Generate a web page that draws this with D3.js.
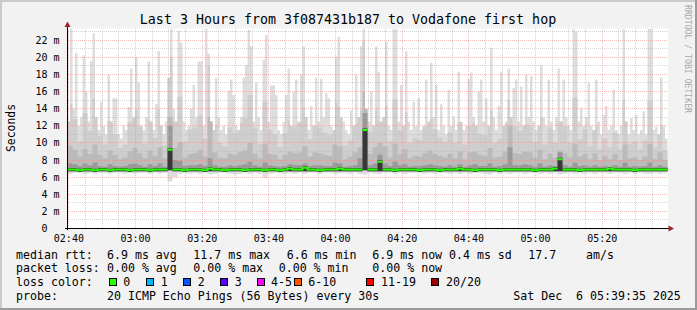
<!DOCTYPE html>
<html><head><meta charset="utf-8">
<script src="https://cdn.jsdelivr.net/npm/d3@7"></script>
<style>
html,body{margin:0;padding:0;background:#f2f2f2;}
svg{display:block;}
text{font-family:"DejaVu Sans Mono",monospace;white-space:pre;}
</style>
</head><body>
<svg id="chart" width="697" height="310"></svg>
<script>
// ---------- data ----------
const titleText = "Last 3 Hours from 3f087431b187 to Vodafone first hop";
const yAxisTitle = "Seconds";
const watermark = "RRDTOOL / TOBI OETIKER";
const timeLabels = ["02:40","03:00","03:20","03:40","04:00","04:20","04:40","05:00","05:20"];
const yTickValues = [0,2,4,6,8,10,12,14,16,18,20,22];
const yTickLabels = ["0  ","2 m","4 m","6 m","8 m","10 m","12 m","14 m","16 m","18 m","20 m","22 m"];
const startTime = "2025-12-06 02:39:35";
const endTime = "2025-12-06 05:39:35";
const stepSeconds = 90;      // step of the inner smoke layers / median
const maxStepSeconds = 45;   // step of the smoke maximum

// smoke maximum (slowest of 20 pings), ms, 240 steps of 45 s
const smokeMax = [
12.5,23.3,14,20.5,12,13,20.2,16,12.5,19.6,
22.8,13,11.5,14.8,12,11,18,12.5,15.2,15.2,
11,10.5,12,11.5,14.2,18.7,13,20.0,17,12,
11.5,13,19.5,12.5,11.5,14.5,20.7,12,11,12.5,
17.6,23.3,14,12.5,23.1,21.7,12.5,11.5,12,14,
16.8,13,19.5,19.5,12,23.3,20.4,12.5,11.5,17.6,
13,11.5,12,11,16.1,17.4,15.6,12,11.5,13,
17.6,19.1,23.2,21.3,12.5,17,13,11.5,19.7,22.6,
12.5,16.7,16.7,15.6,11.5,11,12.5,15.6,18.7,12,
16,17.4,12.5,18,21.3,13,11.5,14.3,12,17.6,
12.5,17.5,13,15.8,15.2,12,11.5,20.1,22.4,13,
12.5,11.5,11,13.8,12,18,13,21.3,23.3,14,
12.5,16,12,21.3,18.3,12.5,13,21.8,12,11.5,
23.3,23.3,12.5,16.8,12,20.7,12.5,11.5,14.8,12,
15.2,11.5,12,17.4,12.5,19.4,13,16.8,11.5,14.5,
12,11,16.2,12,13.1,11.5,18.3,12.5,11.5,12,
17.5,18.2,13,12,16,17.4,12.5,15.2,12,21.1,
13,11.5,14.3,18.3,12,12.5,18.7,13,16.4,17.4,
12.5,16.6,12,18,13,17.8,12.5,11.5,12,19.1,
13,12,17.4,12.5,11.5,13,18.7,12.5,17.4,13,
12,11.5,23.3,23,12.5,14.1,12,13,17,12,
11.5,17.4,12.5,11,13.3,14.3,11.5,12,16.2,11.5,
11,12,23.3,12.5,11,12.9,11.5,13.3,11,11.5,
13.7,11,23.3,23.3,11.5,11.9,11,17.6,12,10.5];
// upper smoke layers, 120 steps of 90 s
const smokeP80 = [
14.5,12.8,10.2,13.5,11.4,15.2,10.8,9.8,12.6,11.0,
9.4,9.8,12.4,13.8,11.9,9.9,12.7,10.6,13.9,9.7,
20.0,12.5,15.4,10.1,11.6,11.8,13.2,10.5,19.0,12.0,
10.0,9.6,11.8,11.2,12.3,12.9,15.6,11.7,9.9,14.8,
11.5,11.0,9.5,11.1,12.6,11.9,12.4,14.1,10.4,12.0,
11.8,11.2,10.9,14.7,14.3,9.7,10.3,12.2,13.9,22.0,
11.3,14.0,12.5,14.4,10.2,15.1,11.5,13.6,10.0,10.6,
10.3,11.9,12.8,11.6,10.6,10.1,11.2,10.0,12.4,9.8,
12.0,12.3,11.1,10.9,13.8,10.0,10.5,12.3,15.0,11.9,
11.4,12.2,12.0,10.1,12.9,9.8,11.8,10.0,12.5,11.9,
10.0,15.3,10.4,11.6,9.6,11.9,9.3,10.5,9.5,11.2,
9.3,15.0,9.9,10.2,9.2,10.3,14.9,9.5,12.1,9.2];
const smokeP65 = [
9.6,9.2,8.4,9.3,8.7,9.8,8.6,8.2,9.1,8.6,
8.1,8.3,9.0,9.4,8.8,8.2,9.1,8.5,9.5,8.2,
13.0,9.4,10.1,8.3,8.7,8.8,9.2,8.4,13.0,8.9,
8.3,8.2,8.8,8.6,8.9,9.1,10.0,8.7,8.2,9.9,
8.7,8.6,8.1,8.6,9.0,8.8,8.9,9.6,8.4,8.9,
8.8,8.6,8.5,9.8,9.6,8.1,8.4,8.9,9.5,16.0,
8.7,9.5,10.0,9.6,8.3,9.9,8.7,9.3,8.2,8.5,
8.4,8.8,9.1,8.7,8.5,8.3,8.7,8.2,9.0,8.1,
8.9,9.0,8.6,8.5,9.4,8.3,8.4,9.0,12.0,8.8,
8.7,9.0,8.9,8.3,9.2,8.1,8.8,8.3,9.1,8.8,
8.3,9.9,8.4,8.7,8.1,8.8,8.0,8.5,8.1,8.7,
8.0,9.8,8.2,8.3,8.0,8.4,9.9,8.1,8.9,8.0];
const smokeP55 = [
7.6,7.5,7.3,7.6,7.4,7.7,7.3,7.2,7.5,7.3,
7.2,7.3,7.5,7.6,7.4,7.2,7.5,7.3,7.6,7.2,
12.0,8.0,7.9,7.3,7.4,7.4,7.5,7.3,8.2,7.4,
7.2,7.2,7.4,7.3,7.4,7.5,7.8,7.4,7.2,7.7,
7.4,7.3,7.2,7.3,7.5,7.4,7.4,7.6,7.3,7.4,
7.4,7.3,7.3,7.7,7.6,7.2,7.3,7.4,8.2,13.5,
7.4,7.6,8.6,7.6,7.3,7.8,7.4,7.5,7.2,7.3,
7.3,7.4,7.5,7.4,7.3,7.2,7.4,7.2,7.5,7.2,
7.4,7.5,7.3,7.3,7.6,7.2,7.3,7.5,9.5,7.4,
7.4,7.5,7.4,7.2,7.6,7.2,7.4,7.3,8.9,7.4,
7.2,7.7,7.3,7.4,7.2,7.4,7.2,7.3,7.2,7.4,
7.2,7.7,7.2,7.3,7.2,7.3,7.7,7.2,7.4,7.2];
// bottom of the inner (darker) layers
const smokeInnerLow = [
6.7,6.7,6.6,6.7,6.7,6.6,6.7,6.7,6.6,6.7,
6.7,6.7,6.6,6.7,6.7,6.7,6.6,6.7,6.7,6.7,
6.8,6.7,6.7,6.6,6.7,6.7,6.7,6.6,6.7,6.7,
6.7,6.6,6.7,6.7,6.7,6.6,6.7,6.7,6.7,6.6,
6.7,6.7,6.6,6.7,6.7,6.7,6.7,6.7,6.7,6.7,
6.6,6.7,6.7,6.7,6.7,6.7,6.7,6.7,6.7,6.8,
6.7,6.7,6.7,6.7,6.7,6.6,6.7,6.7,6.7,6.7,
6.6,6.7,6.7,6.7,6.6,6.7,6.7,6.7,6.7,6.7,
6.7,6.6,6.7,6.7,6.7,6.7,6.6,6.7,6.7,6.7,
6.7,6.7,6.7,6.6,6.7,6.7,6.7,6.7,6.7,6.7,
6.7,6.7,6.6,6.7,6.7,6.7,6.7,6.7,6.7,6.7,
6.7,6.7,6.7,6.6,6.7,6.7,6.7,6.7,6.7,6.7];
// bottom of the lightest layer (fastest of 20 pings)
const smokeMin = [
6.4,6.5,6.5,6.4,6.5,6.4,6.5,6.5,6.4,6.5,
6.5,6.4,6.5,6.4,6.5,6.5,6.4,6.5,6.4,6.5,
5.5,6.0,6.4,6.5,6.4,6.5,6.4,6.5,6.3,6.4,
6.5,6.5,6.4,6.3,6.4,6.5,6.4,6.5,6.4,5.9,
6.4,6.5,6.5,6.4,6.5,6.4,6.5,6.4,6.5,6.5,
6.4,6.5,6.5,6.4,6.5,6.5,6.4,6.5,6.4,6.3,
6.5,6.4,6.4,6.5,6.5,6.4,6.5,6.4,6.5,6.5,
6.5,6.4,6.5,6.4,6.5,6.5,6.4,6.5,6.4,6.5,
6.4,6.5,6.5,6.4,6.3,6.5,6.4,6.5,6.4,6.5,
6.5,6.4,6.5,6.5,6.4,6.5,6.4,6.5,6.3,6.4,
6.5,6.4,6.5,6.4,6.5,6.4,6.5,6.5,6.4,6.5,
6.5,6.4,6.5,6.4,6.5,6.4,6.4,6.5,6.4,6.5];
const medianRtt = [
6.9,6.9,6.8,6.9,6.9,6.8,6.9,6.9,6.8,6.9,
6.9,6.9,6.8,6.9,6.9,6.9,6.8,6.9,6.9,6.9,
9.2,6.9,6.9,6.8,6.9,6.9,6.9,6.8,7.0,6.9,
6.9,6.8,6.9,6.9,6.9,6.8,6.9,6.9,6.9,6.8,
6.9,6.9,6.8,6.9,7.0,6.9,6.9,7.1,6.9,6.9,
6.8,6.9,6.9,6.9,7.0,6.9,6.9,6.9,6.9,11.5,
6.9,6.9,7.8,6.9,6.9,6.8,6.9,6.9,6.9,6.9,
6.8,6.9,6.9,6.9,6.8,6.9,6.9,6.9,7.0,6.9,
6.9,6.8,6.9,6.9,6.9,6.9,6.8,6.9,6.9,6.9,
6.9,6.9,6.9,6.8,6.9,6.9,6.9,7.0,8.1,6.9,
6.9,6.9,6.8,6.9,6.9,6.9,6.9,6.9,7.0,6.9,
6.9,6.9,6.9,6.8,6.9,6.9,6.9,6.9,6.9,6.9];

// legend content
const rttHeader = "median rtt:";
const rttStats = ["6.9 ms avg","11.7 ms max","6.6 ms min","6.9 ms now","0.4 ms sd","17.7","am/s"];
const lossHeader = "packet loss:";
const lossStats = ["0.00 % avg","0.00 % max","0.00 % min","0.00 % now"];
const colorHeader = "loss color:";
const lossLabels = ["0","1","2","3","4-5","6-10","11-19","20/20"];
const lossColors = ["#26ff00","#00b8ff","#0059ff","#5e00ff","#ff00ff","#ff5500","#ff0000","#a00000"];
const probeHeader = "probe:";
const probeText = "20 ICMP Echo Pings (56 Bytes) every 30s";
const dateText = "Sat Dec  6 05:39:35 2025";

// ---------- drawing ----------
const W = 697, H = 310;
const svg = d3.select("#chart");
const parseT = d3.timeParse("%Y-%m-%d %H:%M:%S");
const t0 = parseT(startTime), t1 = parseT(endTime);

const x = d3.scaleTime().domain([t0, t1]).range([67.5, 667.5]);
const y = d3.scaleLinear().domain([0, 23.36]).range([228.5, 28.5]);

// background + 3D border
svg.append("rect").attr("width", W).attr("height", H).attr("fill", "#f2f2f2");
svg.append("path").attr("d", `M0,1 H${W} M1,0 V${H}`).attr("stroke", "#cbcbcb").attr("stroke-width", 2);
svg.append("path").attr("d", `M0,${H-1} H${W} M${W-1},0 V${H}`).attr("stroke", "#9b9b9b").attr("stroke-width", 2);

// plot canvas
svg.append("rect").attr("x", 67).attr("y", 28.5).attr("width", 601).attr("height", 200).attr("fill", "#ffffff");

// coarse rows (median, inner layers)
const rows = medianRtt.map((m, i) => ({
  t: d3.timeSecond.offset(t0, i * stepSeconds),
  med: m, min: smokeMin[i], lo: smokeInnerLow[i]
}));
const stepRows = rows.concat([Object.assign({}, rows[rows.length - 1], {t: t1})]);
// fine rows (max resolution); inner layers never exceed the outer envelope
const ratio = stepSeconds / maxStepSeconds;
const fine = smokeMax.map((mx, j) => {
  const i = Math.floor(j / ratio);
  return {
    t: d3.timeSecond.offset(t0, j * maxStepSeconds),
    max: mx, min: smokeMin[i], lo: smokeInnerLow[i],
    p80: Math.min(smokeP80[i], mx), p65: Math.min(smokeP65[i], mx), p55: Math.min(smokeP55[i], mx)
  };
});
const fineStep = fine.concat([Object.assign({}, fine[fine.length - 1], {t: t1})]);

const layers = [
  {lo: "min", hi: "max", color: "#dddddd"},
  {lo: "lo", hi: "p80", color: "#cecece"},
  {lo: "lo", hi: "p65", color: "#bababa"},
  {lo: "lo", hi: "p55", color: "#999999"}
];
const gSmoke = svg.append("g");
layers.forEach(L => {
  gSmoke.append("path")
    .attr("fill", L.color)
    .attr("d", d3.area().curve(d3.curveStepAfter)
      .x(d => x(d.t)).y0(d => y(d[L.lo])).y1(d => y(d[L.hi]))(fineStep));
});

// grid (dotted, over smoke)
const gGrid = svg.append("g").attr("fill", "none").attr("shape-rendering", "crispEdges");
const minorTimes = d3.timeMinute.every(5).range(d3.timeMinute.ceil(t0), t1);
const majorTimes = timeLabels.map(s => parseT("2025-12-06 " + s + ":00"));
const majorSet = new Set(majorTimes.map(d => +d));
const minorStyle = sel => sel.attr("stroke", "#b8b8b8").attr("stroke-opacity", 0.6).attr("stroke-dasharray", "1,1");
const majorStyle = sel => sel.attr("stroke", "#f08888").attr("stroke-opacity", 0.55).attr("stroke-dasharray", "1,1");
minorTimes.filter(d => !majorSet.has(+d)).forEach(d => {
  const xx = Math.round(x(d) - 0.5) + 0.5;
  gGrid.append("line").attr("x1", xx).attr("x2", xx).attr("y1", 29).attr("y2", 228).call(minorStyle);
});
d3.range(1, 24).filter(v => v % 2 === 1).forEach(v => {
  const yy = Math.round(y(v) - 0.5) + 0.5;
  gGrid.append("line").attr("x1", 68).attr("x2", 668).attr("y1", yy).attr("y2", yy).call(minorStyle);
});
majorTimes.forEach(d => {
  const xx = Math.round(x(d) - 0.5) + 0.5;
  gGrid.append("line").attr("x1", xx).attr("x2", xx).attr("y1", 29).attr("y2", 228).call(majorStyle);
});
yTickValues.filter(v => v > 0).forEach(v => {
  const yy = Math.round(y(v) - 0.5) + 0.5;
  gGrid.append("line").attr("x1", 68).attr("x2", 668).attr("y1", yy).attr("y2", yy).call(majorStyle);
});

// darkest core: from inner low up to the median (fills the spike columns)
svg.append("path")
  .attr("fill", "#383838")
  .attr("d", d3.area().curve(d3.curveStepAfter)
    .x(d => x(d.t)).y0(d => y(d.lo)).y1(d => y(d.med) - 1.5)(stepRows));

// median: green line, broken at large jumps
let gd = "";
rows.forEach((d, i) => {
  const xa = x(d.t), xb = x(stepRows[i + 1].t), yy = y(d.med);
  if (i === 0 || Math.abs(d.med - rows[i - 1].med) > 0.5) gd += `M${xa},${yy}`;
  else gd += `L${xa},${yy}`;
  gd += `L${xb},${yy}`;
});
svg.append("path").attr("fill", "none").attr("stroke", "#26ff00").attr("stroke-width", 2).attr("d", gd);

// axes
const axisColor = "#000000", arrowColor = "#a02424";
svg.append("line").attr("x1", 67.5).attr("x2", 67.5).attr("y1", 230).attr("y2", 26).attr("stroke", axisColor);
svg.append("line").attr("x1", 65).attr("x2", 669).attr("y1", 228.5).attr("y2", 228.5).attr("stroke", axisColor);
svg.append("path").attr("d", "M67.5,21.5 L64.5,27 L70.5,27 Z").attr("fill", arrowColor);
svg.append("path").attr("d", "M674,228.5 L668.5,225.5 L668.5,231.5 Z").attr("fill", arrowColor);

// y labels
const gY = svg.append("g").attr("font-size", "10px").attr("fill", "#000").attr("text-anchor", "end");
yTickValues.forEach((v, i) => {
  gY.append("text").attr("x", 59.5).attr("y", y(v) + 3.6).text(yTickLabels[i]);
});
// x labels
const gX = svg.append("g").attr("font-size", "10px").attr("fill", "#000").attr("text-anchor", "middle");
majorTimes.forEach((d, i) => {
  gX.append("text").attr("x", x(d)).attr("y", 241.8).text(timeLabels[i]);
});

// title
svg.append("text").attr("x", 348).attr("y", 23.5).attr("text-anchor", "middle")
  .attr("font-size", "13.3px").attr("fill", "#000").text(titleText);
// y axis title
svg.append("text").attr("transform", "translate(14.5,128) rotate(-90)").attr("text-anchor", "middle")
  .attr("font-size", "11.4px").attr("fill", "#000").text(yAxisTitle);
// watermark
svg.append("text").attr("transform", "translate(684.5,5) rotate(90)")
  .attr("font-size", "8.6px").attr("fill", "#a8a8a8")
  .attr("textLength", 108).attr("lengthAdjust", "spacingAndGlyphs").text(watermark);

// legend
const gL = svg.append("g").attr("font-size", "11.6px").attr("fill", "#000");
const rowY = [258.5, 272.2, 285.9, 299.5];
gL.append("text").attr("x", 16).attr("y", rowY[0]).text(rttHeader);
const rttX = [107, 193.3, 286.7, 372.3, 449, 528.3, 586];
rttStats.forEach((s, i) => gL.append("text").attr("x", rttX[i]).attr("y", rowY[0]).text(s));
gL.append("text").attr("x", 16).attr("y", rowY[1]).text(lossHeader);
const lossX = [107, 193.3, 278.7, 372.3];
lossStats.forEach((s, i) => gL.append("text").attr("x", lossX[i]).attr("y", rowY[1]).text(s));
gL.append("text").attr("x", 16).attr("y", rowY[2]).text(colorHeader);
const boxX = [108.7, 145.7, 182.7, 219.7, 256.7, 293.7, 365.7, 430.7];
const labX = [123.3, 160.7, 197.7, 234.7, 271, 308.3, 381, 446];
lossLabels.forEach((s, i) => {
  gL.append("rect").attr("x", Math.round(boxX[i]) + 0.5).attr("y", 278.5).attr("width", 7).attr("height", 7)
    .attr("fill", lossColors[i]).attr("stroke", "#000").attr("stroke-width", 1);
  gL.append("text").attr("x", labX[i]).attr("y", rowY[2]).text(s);
});
gL.append("text").attr("x", 16).attr("y", rowY[3]).text(probeHeader);
gL.append("text").attr("x", 107).attr("y", rowY[3]).text(probeText);
gL.append("text").attr("x", 513.3).attr("y", rowY[3]).text(dateText);
</script>
</body></html>
